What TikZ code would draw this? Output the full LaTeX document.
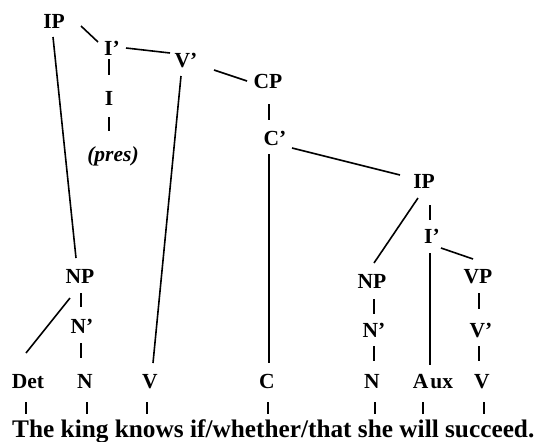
\documentclass[tikz,border=0pt]{standalone}
\usepackage{fontspec}
\setmainfont{Liberation Serif}
\usetikzlibrary{calc}
\tikzset{
  lab/.style={anchor=base, inner sep=0pt, font=\fontsize{21.5}{24}\selectfont\bfseries},
  sent/.style={anchor=base west, inner sep=0pt, font=\fontsize{25.3}{28}\selectfont\bfseries},
  edge/.style={line width=1.6pt}
}
\begin{document}
\begin{tikzpicture}[x=1pt,y=-1pt]
\useasboundingbox (0,0) rectangle (544,442);
% nodes (placed at x centre, baseline)
\node[lab] (ip1) at (54,28) {IP};
\node[lab] (ib1) at (112,55) {I’};
\node[lab] (vb1) at (186,67) {V’};
\node[lab] (cp) at (268,88) {CP};
\node[lab] (i1) at (109,105) {I};
\node[lab, font=\fontsize{21.5}{24}\selectfont\bfseries\itshape] (pres) at (113,161) {(pres)};
\node[lab] (cb) at (275,145) {C’};
\node[lab] (ip2) at (424,188) {IP};
\node[lab] (ib2) at (432,243) {I’};
\node[lab] (np2) at (372,288) {NP};
\node[lab] (vp) at (478,283) {VP};
\node[lab] (np1) at (80,283) {NP};
\node[lab] (nb1) at (82,333) {N’};
\node[lab] (nb2) at (374,337) {N’};
\node[lab] (vb2) at (481,337) {V’};
\node[lab] (det) at (28,388) {Det};
\node[lab] (n1) at (85,388) {N};
\node[lab] (v1) at (150,388) {V};
\node[lab] (c) at (267,388) {C};
\node[lab] (n2) at (372,388) {N};
\node[lab] (aux) at (433,388) {A\kern2pt ux};
\node[lab] (v2) at (482,388) {V};
\node[sent] (s) at (12,437) {The king knows if/whether/that she will succeed.};
% word positions
\coordinate (w1) at (26,414);
\coordinate (w2) at (87,414);
\coordinate (w3) at (147,414);
\coordinate (w4) at (268,414);
\coordinate (w5) at (375,414);
\coordinate (w6) at (423,414);
\coordinate (w7) at (484,414);
% edges
\draw[edge] ($(ip1.base)+(27,-2)$) -- ($(ib1.base)+(-14,-13)$);
\draw[edge] ($(ib1.base)+(14,-7)$) -- ($(vb1.base)+(-16,-14)$);
\draw[edge] ($(vb1.base)+(28,3)$) -- ($(cp.base)+(-21,-7)$);
\draw[edge] ($(ib1.base)+(-3,4)$) -- ($(i1.base)+(0,-30)$);
\draw[edge] ($(i1.base)+(0,12)$) -- ($(pres.base)+(-4,-30)$);
\draw[edge] ($(cp.base)+(1,16)$) -- ($(cb.base)+(-6,-25)$);
\draw[edge] ($(cb.base)+(17,3)$) -- ($(ip2.base)+(-24,-13)$);
\draw[edge] ($(cb.base)+(-6,9)$) -- ($(c.base)+(2,-25)$);
\draw[edge] ($(ip1.base)+(-1,9)$) -- ($(np1.base)+(-4,-25)$);
\draw[edge] ($(vb1.base)+(-5,9)$) -- ($(v1.base)+(3,-25)$);
\draw[edge] ($(np1.base)+(-10,15)$) -- ($(det.base)+(-2,-35)$);
\draw[edge] ($(np1.base)+(1,10)$) -- ($(nb1.base)+(-1,-26)$);
\draw[edge] ($(nb1.base)+(-1,10)$) -- ($(n1.base)+(-4,-30)$);
\draw[edge] ($(ip2.base)+(-6,10)$) -- ($(np2.base)+(2,-25)$);
\draw[edge] ($(ip2.base)+(6,17)$) -- ($(ib2.base)+(-2,-23)$);
\draw[edge] ($(ib2.base)+(-2,10)$) -- ($(aux.base)+(-3,-23)$);
\draw[edge] ($(ib2.base)+(9,5)$) -- ($(vp.base)+(-5,-24)$);
\draw[edge] ($(np2.base)+(2,11)$) -- ($(nb2.base)+(0,-23)$);
\draw[edge] ($(nb2.base)+(0,9)$) -- ($(n2.base)+(2,-27)$);
\draw[edge] ($(vp.base)+(1,10)$) -- ($(vb2.base)+(-2,-28)$);
\draw[edge] ($(vb2.base)+(-2,9)$) -- ($(v2.base)+(-3,-27)$);
% ticks to the words
\draw[edge] ($(det.base)+(-2,14)$) -- (w1);
\draw[edge] ($(n1.base)+(2,14)$) -- (w2);
\draw[edge] ($(v1.base)+(-3,14)$) -- (w3);
\draw[edge] ($(c.base)+(1,14)$) -- (w4);
\draw[edge] ($(n2.base)+(3,14)$) -- (w5);
\draw[edge] ($(aux.base)+(-10,14)$) -- (w6);
\draw[edge] ($(v2.base)+(2,14)$) -- (w7);
\end{tikzpicture}
\end{document}
